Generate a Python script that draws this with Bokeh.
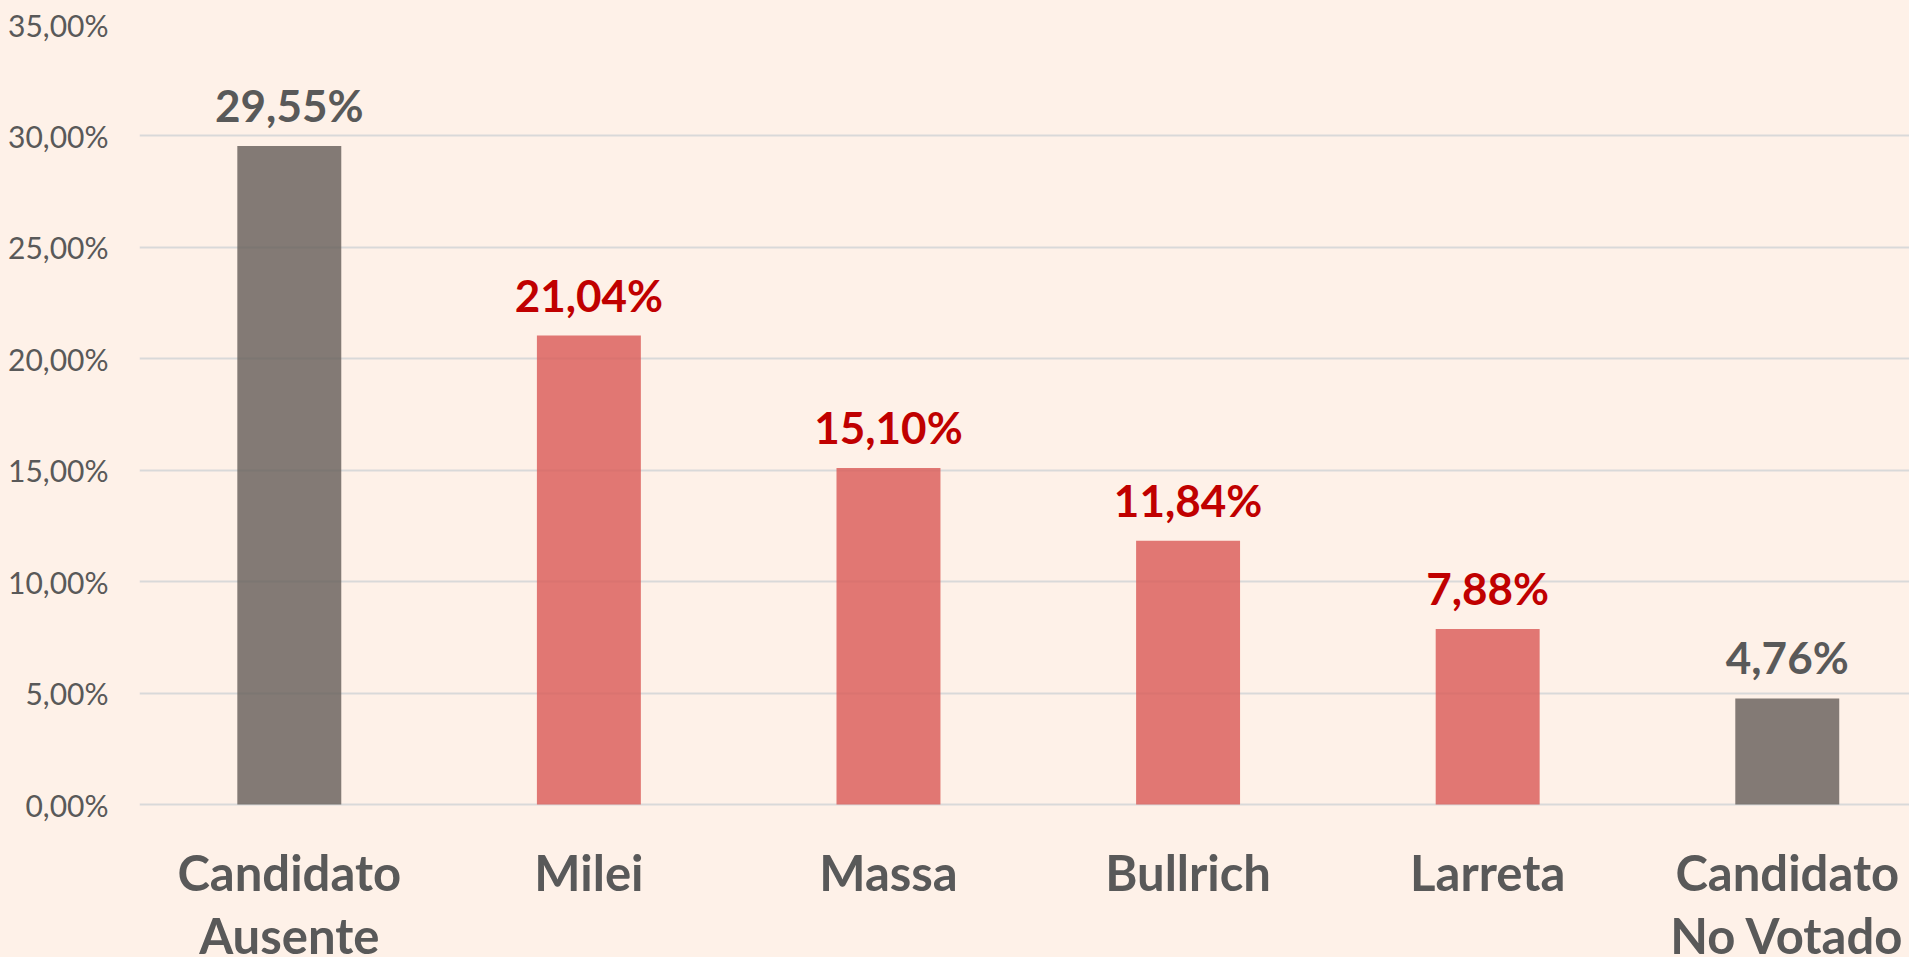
from bokeh.plotting import figure
from bokeh.models import ColumnDataSource, Range1d, FixedTicker, CustomJSTickFormatter
from bokeh.core.properties import value
from bokeh.embed import file_html
from bokeh.resources import INLINE

# ---- data ----
categories = ["Candidato\nAusente", "Milei", "Massa", "Bullrich", "Larreta", "Candidato\nNo Votado"]
percentages = [29.55, 21.04, 15.10, 11.84, 7.88, 4.76]
value_labels = ["29,55%", "21,04%", "15,10%", "11,84%", "7,88%", "4,76%"]
bar_colors = ["#645C58", "#D95955", "#D95955", "#D95955", "#D95955", "#645C58"]
label_colors = ["#595959", "#C00000", "#C00000", "#C00000", "#C00000", "#595959"]
y_ticks = [0, 5, 10, 15, 20, 25, 30, 35]

BG = "#FEF1E8"
FONT = "Lato"

xs = list(range(len(categories)))
src = ColumnDataSource(dict(
    x=xs, top=percentages, cat=categories, lab=value_labels,
    bc=bar_colors, lc=label_colors, zero=[0] * len(xs),
))

p = figure(width=1909, height=957, output_backend="svg", toolbar_location=None,
           x_range=Range1d(-0.5, 5.408), y_range=Range1d(-6.865, 35),
           x_axis_location=None,
           min_border_left=139, min_border_right=0, min_border_top=24, min_border_bottom=0)

p.background_fill_color = BG
p.border_fill_color = BG
p.outline_line_color = None

p.xgrid.grid_line_color = None
p.ygrid.grid_line_color = "#D9D9D9"
p.ygrid.grid_line_width = 2
p.ygrid.ticker = FixedTicker(ticks=y_ticks)

ax = p.yaxis[0]
ax.ticker = FixedTicker(ticks=y_ticks)
ax.formatter = CustomJSTickFormatter(code="return tick.toFixed(2).replace('.', ',') + '%';")
ax.axis_line_color = None
ax.major_tick_line_color = None
ax.minor_tick_line_color = None
ax.major_tick_out = 0
ax.major_tick_in = 0
ax.major_label_standoff = 31
ax.major_label_text_font = FONT
ax.major_label_text_font_size = "30px"
ax.major_label_text_color = "#595959"

p.vbar(x="x", top="top", bottom=0, width=0.347, source=src,
       fill_color="bc", fill_alpha=0.8, line_color=None)

p.text(x="x", y="top", text="lab", source=src, text_align="center",
       text_baseline="alphabetic", y_offset=-41,
       text_font=value(FONT), text_font_style="bold", text_font_size="44px",
       text_color="lc")

p.text(x="x", y="zero", text="cat", source=src, text_align="center",
       text_baseline="top", y_offset=38, text_line_height=1.1,
       text_font=value(FONT), text_font_style="bold", text_font_size="49px",
       text_color="#595959")

html = file_html(p, INLINE)
html = html.replace("</head>", "<style>html,body{background:%s;}</style></head>" % BG, 1)
open("out.html", "w").write(html)
